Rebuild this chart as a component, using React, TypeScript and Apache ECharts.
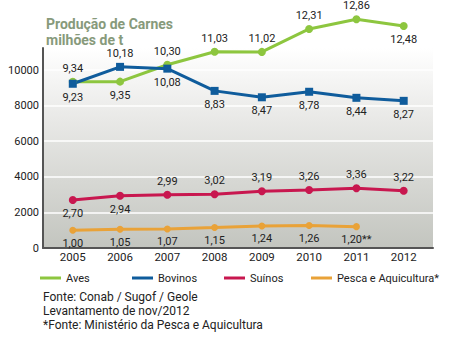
import React, { useEffect, useRef } from "react";
import * as echarts from "echarts";

const years = [2005, 2006, 2007, 2008, 2009, 2010, 2011, 2012];
const aves = [9340, 9350, 10300, 11030, 11020, 12310, 12860, 12480];
const avesLabelPos = ["top", "bottom", "top", "top", "top", "top", "top", "bottom"];
const bovinos = [9230, 10180, 10080, 8830, 8470, 8780, 8440, 8270];
const bovinosLabelPos = ["bottom", "top", "bottom", "bottom", "bottom", "bottom", "bottom", "bottom"];
const suinos = [2700, 2940, 2990, 3020, 3190, 3260, 3360, 3220];
const suinosLabelPos = ["bottom", "bottom", "top", "top", "top", "top", "top", "top"];
const pesca = [1000, 1050, 1070, 1150, 1240, 1260, 1200];
const pescaLabelSuffix = ["", "", "", "", "", "", "**"];
const yTicks = [0, 2000, 4000, 6000, 8000, 10000];
const seriesNames = ["Aves", "Bovinos", "Suínos", "Pesca e Aquicultura*"];
const seriesColors = ["#8dc63f", "#0f5c9c", "#c8174f", "#e9a238"];

const FONT = "Roboto, 'Noto Sans', sans-serif";

const fmt = (v: number) => (v / 1000).toFixed(2).replace(".", ",");

function buildData(vals: number[], pos: string[], suffix?: string[]) {
  return vals.map((v, i) => ({
    value: [years[i], v],
    label: {
      position: pos[i],
      formatter: fmt(v) + (suffix ? suffix[i] : ""),
    },
  }));
}

export default function App() {
  const ref = useRef<HTMLDivElement>(null);
  useEffect(() => {
    if (!ref.current) return;
    const chart = echarts.init(ref.current, undefined, { renderer: "svg" });
    const labelStyle = {
      show: true,
      color: "#222",
      fontFamily: FONT,
      fontSize: 11,
      distance: 4,
    };
    const mk = (i: number, data: any[], symbol: string, size: number) => ({
      name: seriesNames[i],
      type: "line",
      data,
      symbol,
      symbolSize: size,
      showAllSymbol: true,
      clip: false,
      lineStyle: { color: seriesColors[i], width: 3 },
      itemStyle: { color: seriesColors[i] },
      label: labelStyle,
    });
    const legendLefts = [40, 132, 224, 311];
    const legendY = 278;
    const legendGraphics: any[] = [];
    seriesNames.forEach((n, i) => {
      legendGraphics.push({
        type: "rect",
        shape: { x: legendLefts[i], y: legendY - 1.5, width: 21, height: 3 },
        style: { fill: seriesColors[i] },
      });
      legendGraphics.push({
        type: "text",
        x: legendLefts[i] + 26,
        y: legendY,
        style: {
          text: n,
          fill: "#222",
          font: "11px " + FONT,
          verticalAlign: "middle",
          align: "left",
        },
      });
    });
    chart.setOption({
      animation: false,
      backgroundColor: "#ffffff",
      title: {
        text: "Produção de Carnes\nmilhões de t",
        left: 41,
        top: 11,
        textStyle: {
          color: "#879a7b",
          fontFamily: FONT,
          fontSize: 14,
          fontWeight: "bold",
          lineHeight: 16,
        },
      },
      legend: { show: false },
      grid: {
        left: 43,
        right: 29,
        top: 48,
        bottom: 93,
        show: true,
        borderWidth: 0,
        backgroundColor: new echarts.graphic.LinearGradient(0, 0, 0, 1, [
          { offset: 0, color: "#ffffff" },
          { offset: 0.35, color: "#e9e9e7" },
          { offset: 1, color: "#c3c5bf" },
        ]),
      },
      xAxis: {
        type: "value",
        min: 2004.37,
        max: 2012.62,
        minInterval: 1,
        maxInterval: 1,
        axisLine: { show: true, onZero: false, lineStyle: { color: "#555", width: 2 } },
        axisTick: { show: false },
        splitLine: { show: false },
        axisLabel: {
          color: "#222",
          fontFamily: FONT,
          fontSize: 11.5,
          margin: 3,
          showMinLabel: false,
          showMaxLabel: false,
          formatter: (v: number) => (years.includes(Math.round(v)) && Math.abs(v - Math.round(v)) < 1e-6 ? String(Math.round(v)) : ""),
        },
      },
      yAxis: {
        type: "value",
        min: 0,
        max: 11240,
        interval: 2000,
        axisLine: { show: true, lineStyle: { color: "#555", width: 2 } },
        axisTick: { show: false },
        splitLine: { show: true, showMinLine: false, showMaxLine: false, lineStyle: { color: "#ffffff", width: 1.5 } },
        axisLabel: {
          color: "#222",
          fontFamily: FONT,
          fontSize: 11,
          margin: 4,
          showMaxLabel: false,
          formatter: (v: number) => (yTicks.includes(v) ? String(v) : ""),
        },
      },
      series: [
        mk(0, buildData(aves, avesLabelPos), "circle", 8),
        mk(1, buildData(bovinos, bovinosLabelPos), "rect", 8),
        mk(2, buildData(suinos, suinosLabelPos), "circle", 8),
        mk(3, buildData(pesca, pesca.map(() => "bottom"), pescaLabelSuffix), "circle", 7),
      ],
      graphic: [
        ...legendGraphics,
        {
          type: "text",
          left: 43,
          top: 290,
          style: {
            text: "Fonte: Conab / Sugof / Geole\nLevantamento de nov/2012\n*Fonte: Ministério da Pesca e Aquicultura",
            fill: "#222",
            font: "12px " + FONT,
            lineHeight: 14,
          },
        },
      ],
    });
    return () => chart.dispose();
  }, []);
  return <div ref={ref} style={{ position: "fixed", left: 0, top: 0, width: 462, height: 341 }} />;
}
